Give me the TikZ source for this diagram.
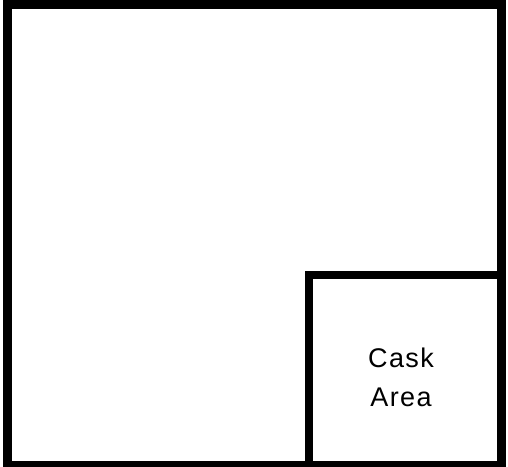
\documentclass[tikz,border=0pt]{standalone}
\usepackage{fontspec}
\setmainfont{Liberation Sans}
\newfontfamily\caskfont[LetterSpace=5]{Liberation Sans}
\begin{document}
\begin{tikzpicture}[x=1pt,y=1pt,every node/.style={align=center, font=\caskfont\fontsize{27}{39}\selectfont}]
\useasboundingbox (0,0) rectangle (508,466);
% Outer room
\draw[line width=9pt] (7,1) rectangle (501,461.5);
% Cask area in the corner
\draw[line width=8pt] (308.5,-4) -- (308.5,191) -- (505,191);
\node (cask) at (401,89) {Cask\\Area};
\end{tikzpicture}
\end{document}
